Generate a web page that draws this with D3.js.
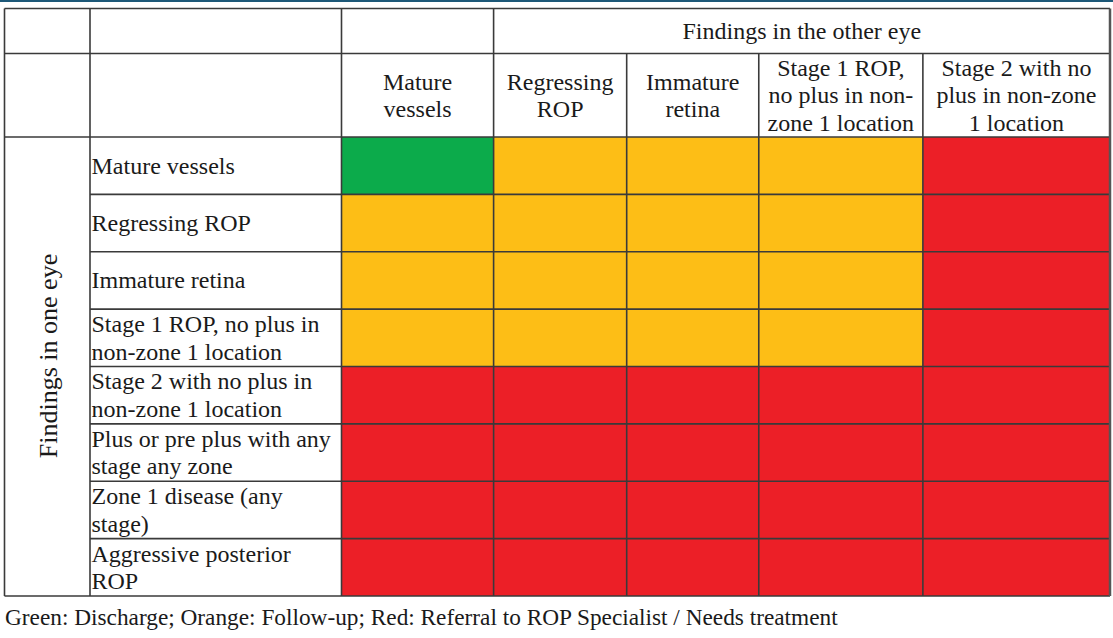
<!DOCTYPE html>
<html>
<head>
<meta charset="utf-8">
<script src="https://cdn.jsdelivr.net/npm/d3@7"></script>
<style>
  body { margin: 0; background: #fff; }
  svg text { font-family: "Liberation Serif", "DejaVu Serif", serif; fill: #1a1a1a; }
</style>
</head>
<body>
<div id="viz"></div>
<script>
// data
var colHeader = "Findings in the other eye";
var rowHeader = "Findings in one eye";
var colLabels = [
  ["Mature", "vessels"],
  ["Regressing", "ROP"],
  ["Immature", "retina"],
  ["Stage 1 ROP,", "no plus in non-", "zone 1 location"],
  ["Stage 2 with no", "plus in non-zone", "1 location"]
];
var rowLabels = [
  ["Mature vessels"],
  ["Regressing ROP"],
  ["Immature retina"],
  ["Stage 1 ROP, no plus in", "non-zone 1 location"],
  ["Stage 2 with no plus in", "non-zone 1 location"],
  ["Plus or pre plus with any", "stage any zone"],
  ["Zone 1 disease (any", "stage)"],
  ["Aggressive posterior", "ROP"]
];
// G = discharge, O = follow-up, R = referral
var grid = [
  ["G", "O", "O", "O", "R"],
  ["O", "O", "O", "O", "R"],
  ["O", "O", "O", "O", "R"],
  ["O", "O", "O", "O", "R"],
  ["R", "R", "R", "R", "R"],
  ["R", "R", "R", "R", "R"],
  ["R", "R", "R", "R", "R"],
  ["R", "R", "R", "R", "R"]
];
var footnote = "Green: Discharge; Orange: Follow-up; Red: Referral to ROP Specialist / Needs treatment";

// layout
var W = 1113, H = 638;
var left = 4.5, labelX = 90, gridX = 341.5, right = 1110;
var top0 = 8.5, top1 = 53.5, top2 = 137, bottom = 596;
var colWeights = [152, 133, 132, 164, 187];
var lh = 27.5;
var fs = "24px";
var stroke = "#3a3a3a";

var svg = d3.select("#viz").append("svg")
  .attr("width", W).attr("height", H);

svg.append("rect").attr("x", 0).attr("y", 0).attr("width", W).attr("height", 2)
  .attr("fill", "#1d5878");

// column positions from weights
var starts = [], acc = gridX;
var total = d3.sum(colWeights);
colWeights.forEach(function(w){ starts.push(acc); acc += w * (right - gridX) / total; });
var x = d3.scaleOrdinal().domain(d3.range(colLabels.length)).range(starts);
var cw = function(i){ return colWeights[i] * (right - gridX) / total; };
var y = d3.scaleBand().domain(d3.range(rowLabels.length)).range([top2, bottom]);

var color = d3.scaleOrdinal().domain(["G", "O", "R"]).range(["#0cab4b", "#fdbe16", "#ec1f27"]);

function lines(g, arr, cx, cy, anchor){
  var n = arr.length;
  g.selectAll(null).data(arr).enter().append("text")
    .attr("x", cx)
    .attr("y", function(d, i){ return cy + 8 + (i - (n - 1) / 2) * lh; })
    .attr("text-anchor", anchor)
    .style("font-size", fs)
    .text(function(d){ return d; });
}

var cells = svg.append("g");
// colour cells
grid.forEach(function(row, r){
  row.forEach(function(v, c){
    cells.append("rect")
      .attr("x", x(c)).attr("y", y(r))
      .attr("width", cw(c)).attr("height", y.bandwidth())
      .attr("fill", color(v));
  });
});

// grid lines
var ln = svg.append("g").attr("stroke", stroke).attr("stroke-width", 1.6);
function hline(y1, x1, x2){ ln.append("line").attr("x1", x1).attr("x2", x2).attr("y1", y1).attr("y2", y1); }
function vline(x1, y1, y2){ ln.append("line").attr("x1", x1).attr("x2", x1).attr("y1", y1).attr("y2", y2); }
hline(top0, left, right);
hline(top1, left, right);
hline(top2, left, right);
y.domain().forEach(function(r){ if (r > 0) hline(y(r), labelX, right); });
hline(bottom, left, right);
vline(left, top0, bottom);
vline(labelX, top0, bottom);
vline(gridX, top0, bottom);
x.domain().forEach(function(c){ if (c > 0) vline(x(c), top1, bottom); });
vline(x(1), top0, top1);
ln.append("line").attr("x1", right).attr("x2", right).attr("y1", top0).attr("y2", bottom)
  .attr("stroke", "#555").attr("stroke-width", 2.5);

// header texts
var t = svg.append("g");
lines(t, [colHeader], (x(1) + right) / 2, (top0 + top1) / 2, "middle");
colLabels.forEach(function(lab, c){
  lines(t, lab, x(c) + cw(c) / 2, (top1 + top2) / 2, "middle");
});
rowLabels.forEach(function(lab, r){
  lines(t, lab, labelX + 1.5, y(r) + y.bandwidth() / 2, "start");
});

t.append("text")
  .attr("transform", "translate(57," + 356 + ") rotate(-90)")
  .attr("text-anchor", "middle")
  .style("font-size", "26px")
  .text(rowHeader);

t.append("text")
  .attr("x", 5).attr("y", 625)
  .style("font-size", "23.3px")
  .text(footnote);
</script>
</body>
</html>
